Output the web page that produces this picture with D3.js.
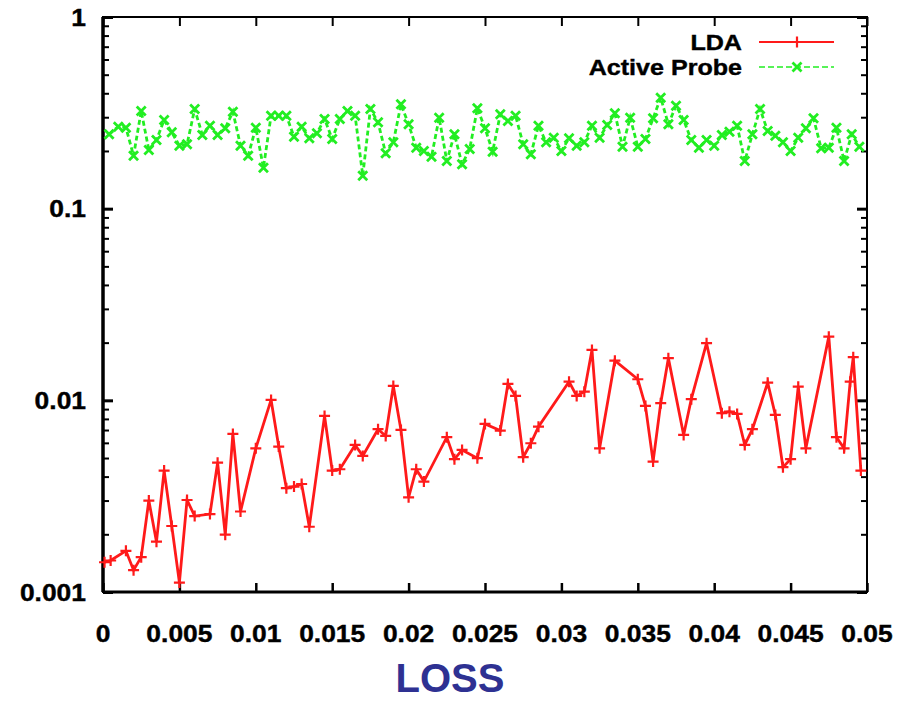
<!DOCTYPE html>
<html>
<head>
<meta charset="utf-8">
<script src="https://cdn.jsdelivr.net/npm/d3@7"></script>
<style>
  html, body { margin: 0; padding: 0; background: #fff; }
  svg { display: block; }
  text { font-family: "Liberation Sans", Arial, sans-serif; font-weight: bold; }
</style>
</head>
<body>
<svg id="chart" width="915" height="702"></svg>
<script>
// ---- data ----
const ldaX = [0.0001,0.0005,0.0015,0.002,0.0025,0.003,0.0035,0.004,0.0045,0.005,
  0.0055,0.006,0.007,0.0075,0.008,0.0085,0.009,0.01,0.011,0.0115,
  0.012,0.0125,0.013,0.0135,0.0145,0.015,0.0155,0.0165,0.017,0.018,
  0.0185,0.019,0.0195,0.02,0.0205,0.021,0.0225,0.023,0.0235,0.0245,
  0.025,0.026,0.0265,0.027,0.0275,0.028,0.0285,0.0305,0.031,0.0315,
  0.032,0.0325,0.0335,0.035,0.0355,0.036,0.0365,0.037,0.038,0.0385,
  0.0395,0.0405,0.041,0.0415,0.042,0.0425,0.0435,0.044,0.0445,0.045,
  0.0455,0.046,0.0475,0.048,0.0485,0.0489,0.0491,0.0496];
const ldaY = [0.00143,0.00146,0.00164,0.0013,0.00152,0.0030,0.00183,0.0043,0.00221,0.00112,
  0.00302,0.00249,0.00255,0.00473,0.00199,0.00668,0.00263,0.00562,0.01005,0.00574,
  0.00348,0.00355,0.00366,0.00219,0.00829,0.0043,0.00437,0.00585,0.00513,0.00707,
  0.00652,0.01189,0.00701,0.00312,0.00437,0.00377,0.00642,0.00493,0.00551,0.00499,
  0.00753,0.00695,0.01218,0.01054,0.00505,0.00597,0.00729,0.01252,0.01054,0.0111,
  0.01832,0.00562,0.0161,0.01288,0.00935,0.00479,0.00966,0.0166,0.0066,0.01014,
  0.01986,0.00857,0.00873,0.00849,0.00585,0.00707,0.01236,0.00839,0.00448,0.00493,
  0.01178,0.00562,0.02149,0.00642,0.00562,0.01252,0.0168,0.0043];
const probeX = [0.0004,0.001,0.0015,0.002,0.0025,0.003,0.0035,0.004,0.0045,0.005,
  0.0055,0.006,0.0065,0.007,0.0075,0.008,0.0085,0.009,0.0095,0.01,
  0.0105,0.011,0.0115,0.012,0.0125,0.013,0.0135,0.014,0.0145,0.015,
  0.0155,0.016,0.0165,0.017,0.0175,0.018,0.0185,0.019,0.0195,0.02,
  0.0205,0.021,0.0215,0.022,0.0225,0.023,0.0235,0.024,0.0245,0.025,
  0.0255,0.026,0.0265,0.027,0.0275,0.028,0.0285,0.029,0.0295,0.03,
  0.0305,0.031,0.0315,0.032,0.0325,0.033,0.0335,0.034,0.0345,0.035,
  0.0355,0.036,0.0365,0.037,0.0375,0.038,0.0385,0.039,0.0395,0.04,
  0.0405,0.041,0.0415,0.042,0.0425,0.043,0.0435,0.044,0.0445,0.045,
  0.0455,0.046,0.0465,0.047,0.0475,0.048,0.0485,0.049,0.0495];
const probeY = [0.2443,0.2678,0.2646,0.1890,0.3233,0.2024,0.2283,0.2902,0.2503,0.2131,
  0.2167,0.3311,0.2424,0.2710,0.2424,0.2627,0.3206,0.2131,0.1890,0.2646,
  0.1636,0.3056,0.3056,0.3056,0.2375,0.2678,0.2329,0.2474,0.2937,0.2310,
  0.2937,0.3233,0.3056,0.1486,0.3311,0.2823,0.1945,0.2220,0.3504,0.2756,
  0.2081,0.2000,0.1867,0.2983,0.1773,0.2443,0.1704,0.2049,0.3340,0.2627,
  0.1983,0.3108,0.2867,0.3056,0.2167,0.1922,0.2710,0.2220,0.2346,0.2000,
  0.2329,0.2131,0.2220,0.2710,0.2346,0.2733,0.3145,0.2106,0.2983,0.2106,
  0.2310,0.2961,0.3793,0.2756,0.3446,0.2902,0.2283,0.2081,0.2283,0.2131,
  0.2424,0.2521,0.2710,0.1773,0.2443,0.3311,0.2542,0.2403,0.2220,0.2000,
  0.2346,0.2627,0.2961,0.2066,0.2081,0.2646,0.1773,0.2443,0.2106];
const xTicks = [0,0.005,0.01,0.015,0.02,0.025,0.03,0.035,0.04,0.045,0.05];
const xTickLabels = ["0","0.005","0.01","0.015","0.02","0.025","0.03","0.035","0.04","0.045","0.05"];
const yTicks = [0.001,0.01,0.1,1];
const yTickLabels = ["0.001","0.01","0.1","1"];
const seriesNames = ["LDA","Active Probe"];
const xTitle = "LOSS";

// ---- layout ----
const W = 915, H = 702;
const m = {left: 103, top: 17, right: 48, bottom: 110};
const iw = W - m.left - m.right, ih = H - m.top - m.bottom;
const STRETCH = 1.1;

const svg = d3.select("#chart");
const x = d3.scaleLinear().domain([0, 0.05]).range([m.left, m.left + iw]);
const y = d3.scaleLog().domain([0.001, 1]).range([m.top + ih, m.top]);

function stretch(sel, k) {
  sel.each(function() {
    const len = this.getComputedTextLength();
    d3.select(this).attr("textLength", len * k).attr("lengthAdjust", "spacingAndGlyphs");
  });
}

// minor y ticks
const minor = [];
[0.001, 0.01, 0.1].forEach(d => { for (let k = 2; k <= 9; k++) minor.push(d * k); });

const g = svg.append("g");
const axL = d3.axisLeft(y).tickValues(yTicks).tickSize(-10).tickFormat("");
const axLm = d3.axisLeft(y).tickValues(minor).tickSize(-6).tickFormat("");
const axR = d3.axisRight(y).tickValues(yTicks).tickSize(-10).tickFormat("");
const axRm = d3.axisRight(y).tickValues(minor).tickSize(-6).tickFormat("");
const axB = d3.axisBottom(x).tickValues(xTicks).tickSize(-9).tickFormat("");
const axT = d3.axisTop(x).tickValues(xTicks).tickSize(-9).tickFormat("");

function styleAxis(sel, w) {
  sel.select(".domain").remove();
  sel.selectAll(".tick line").attr("stroke", "#000").attr("stroke-width", w);
}
g.append("g").attr("transform", `translate(${m.left},0)`).call(axL).call(s => styleAxis(s, 3));
g.append("g").attr("transform", `translate(${m.left},0)`).call(axLm).call(s => styleAxis(s, 2));
g.append("g").attr("transform", `translate(${m.left + iw},0)`).call(axR).call(s => styleAxis(s, 3));
g.append("g").attr("transform", `translate(${m.left + iw},0)`).call(axRm).call(s => styleAxis(s, 2));
g.append("g").attr("transform", `translate(0,${m.top + ih})`).call(axB).call(s => styleAxis(s, 2.5));
g.append("g").attr("transform", `translate(0,${m.top})`).call(axT).call(s => styleAxis(s, 2));

// frame
g.append("rect").attr("x", m.left).attr("y", m.top).attr("width", iw).attr("height", ih)
  .attr("fill", "none").attr("stroke", "#000").attr("stroke-width", 2);
g.append("line").attr("x1", m.left).attr("x2", m.left).attr("y1", m.top).attr("y2", m.top + ih)
  .attr("stroke", "#000").attr("stroke-width", 3.5);
g.append("line").attr("x1", m.left).attr("x2", m.left + iw).attr("y1", m.top + ih).attr("y2", m.top + ih)
  .attr("stroke", "#000").attr("stroke-width", 3);

// tick labels
g.selectAll(".xl").data(xTicks).enter().append("text")
  .attr("class", "xl").attr("x", d => x(d)).attr("y", 642)
  .attr("text-anchor", "middle").attr("font-size", 24).attr("fill", "#000")
  .attr("stroke", "#000").attr("stroke-width", 0.4)
  .text((d, i) => xTickLabels[i]).call(stretch, STRETCH);
g.selectAll(".yl").data(yTicks).enter().append("text")
  .attr("class", "yl").attr("x", 86).attr("y", d => y(d) + 8.5)
  .attr("text-anchor", "end").attr("font-size", 24).attr("fill", "#000")
  .attr("stroke", "#000").attr("stroke-width", 0.4)
  .text((d, i) => yTickLabels[i]).call(stretch, STRETCH);

// x title
svg.append("text").attr("x", 450).attr("y", 692).attr("text-anchor", "middle")
  .attr("font-size", 40).attr("fill", "#2e3192").text(xTitle);

// series
const ldaData = ldaX.map((d, i) => [d, ldaY[i]]);
const probeData = probeX.map((d, i) => [d, probeY[i]]);
const line = d3.line().x(d => x(d[0])).y(d => y(d[1]));

const RED = "#ff1a1a", GREEN = "#22ee22";

g.append("path").datum(probeData).attr("d", line).attr("fill", "none")
  .attr("stroke", GREEN).attr("stroke-width", 2.8).attr("stroke-dasharray", "5,3");
function crossX(sel, s) {
  sel.append("path").attr("d", `M${-s},${-s}L${s},${s}M${-s},${s}L${s},${-s}`);
}
function plus(sel, s) {
  sel.append("path").attr("d", `M${-s},0L${s},0M0,${-s}L0,${s}`);
}
g.append("g").attr("stroke", GREEN).attr("stroke-width", 2.8).attr("fill", "none")
  .selectAll("g").data(probeData).enter().append("g")
  .attr("transform", d => `translate(${x(d[0])},${y(d[1])})`)
  .each(function() { crossX(d3.select(this), 4.5); });

g.append("path").datum(ldaData).attr("d", line).attr("fill", "none")
  .attr("stroke", RED).attr("stroke-width", 2.8);
g.append("g").attr("stroke", RED).attr("stroke-width", 2.2).attr("fill", "none")
  .selectAll("g").data(ldaData).enter().append("g")
  .attr("transform", d => `translate(${x(d[0])},${y(d[1])})`)
  .each(function() { plus(d3.select(this), 5.5); });

// legend
const legY = [42, 67];
const lg = svg.append("g");
lg.selectAll("text").data(seriesNames).enter().append("text")
  .attr("x", 742).attr("y", (d, i) => legY[i] + 8).attr("text-anchor", "end")
  .attr("font-size", 22).attr("fill", "#000")
  .attr("stroke", "#000").attr("stroke-width", 0.4)
  .text(d => d).call(stretch, 1.14);
lg.append("line").attr("x1", 759).attr("x2", 834).attr("y1", legY[0]).attr("y2", legY[0])
  .attr("stroke", RED).attr("stroke-width", 2);
plus(lg.append("g").attr("transform", `translate(797,${legY[0]})`).attr("stroke", RED).attr("stroke-width", 2.2), 5.5);
lg.append("line").attr("x1", 759).attr("x2", 834).attr("y1", legY[1]).attr("y2", legY[1])
  .attr("stroke", GREEN).attr("stroke-width", 1.5).attr("stroke-dasharray", "6,3");
crossX(lg.append("g").attr("transform", `translate(797,${legY[1]})`).attr("stroke", GREEN).attr("stroke-width", 2.8), 4.5);
</script>
</body>
</html>
